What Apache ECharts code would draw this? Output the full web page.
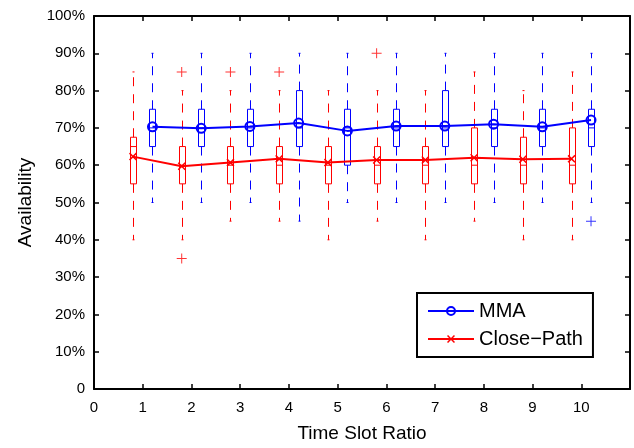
<!DOCTYPE html>
<html>
<head>
<meta charset="utf-8">
<script src="https://cdn.jsdelivr.net/npm/echarts@6/dist/echarts.min.js"></script>
<style>html,body{margin:0;padding:0;background:#fff}#c{width:634px;height:448px}</style>
</head>
<body>
<div id="c"></div>
<script>
// ---- data ----
const ratios = [1, 2, 3, 4, 5, 6, 7, 8, 9, 10];
const mmaMean = [70.3, 69.9, 70.4, 71.3, 69.2, 70.5, 70.5, 71.0, 70.3, 72.1];
const cpMean  = [62.3, 59.7, 60.7, 61.7, 60.7, 61.4, 61.4, 62.0, 61.6, 61.7];
// box stats: whisker low, Q1, median, Q3, whisker high
const mmaLow  = [50, 50, 50, 45, 50, 50, 50, 50, 50, 50];
const mmaQ1   = [65, 65, 65, 65, 60, 65, 65, 65, 65, 65];
const mmaMed  = [70, 70, 70, 70, 70, 70, 70, 70, 70, 70];
const mmaQ3   = [75, 75, 75, 80, 75, 75, 80, 75, 75, 75];
const mmaHigh = [90, 90, 90, 90, 90, 90, 90, 90, 90, 90];
const cpLow   = [40, 40, 45, 45, 40, 45, 40, 45, 40, 40];
const cpQ1    = [55, 55, 55, 55, 55, 55, 55, 55, 55, 55];
const cpMed   = [65, 60, 60, 60, 60, 60, 60, 60, 60, 60];
const cpQ3    = [67.5, 65, 65, 65, 65, 65, 65, 70, 67.5, 70];
const cpHigh  = [85, 80, 80, 80, 80, 80, 80, 85, 80, 85];
// outliers: ratio, value
const mmaOutRatio = [10];
const mmaOutValue = [45];
const cpOutRatio  = [2, 2, 3, 4, 6];
const cpOutValue  = [85, 35, 85, 85, 90];
const yTicks = [0, 10, 20, 30, 40, 50, 60, 70, 80, 90, 100];

// ---- presentation ----
const BLUE = '#0000ff', RED = '#ff0000';
const MMA_OFF = 0.2, CP_OFF = -0.2;
const FONT = "'Liberation Sans', Arial, Helvetica, sans-serif";

function boxData(off, lo, q1, md, q3, hi) {
  return ratios.map((r, i) => [r + off, lo[i], q1[i], md[i], q3[i], hi[i]]);
}
function boxRenderer(color) {
  return function (params, api) {
    const x = api.value(0);
    const p = k => api.coord([x, api.value(k)]);
    const lo = p(1), q1 = p(2), md = p(3), q3 = p(4), hi = p(5);
    const cx = Math.round(lo[0]) + 0.5;
    const hw = 3;
    const solid = { stroke: color, lineWidth: 1, fill: null };
    const dashed = { stroke: color, lineWidth: 1, lineDash: [9, 8], fill: null };
    return {
      type: 'group',
      children: [
        { type: 'line', shape: { x1: cx, y1: q3[1], x2: cx, y2: hi[1] }, style: dashed },
        { type: 'line', shape: { x1: cx, y1: q1[1], x2: cx, y2: lo[1] }, style: dashed },
        { type: 'line', shape: { x1: cx - 1, y1: hi[1], x2: cx + 1, y2: hi[1] }, style: solid },
        { type: 'line', shape: { x1: cx - 1, y1: lo[1], x2: cx + 1, y2: lo[1] }, style: solid },
        { type: 'rect', shape: { x: cx - hw, y: q3[1], width: 2 * hw, height: q1[1] - q3[1] }, style: solid },
        { type: 'line', shape: { x1: cx - hw, y1: md[1], x2: cx + hw, y2: md[1] }, style: solid }
      ]
    };
  };
}
const PLUS = 'path://M4.5,0h1v4.5h4.5v1h-4.5v4.5h-1v-4.5h-4.5v-1h4.5z';
const CROSS = 'path://M0,1.3L1.3,0L5,3.7L8.7,0L10,1.3L6.3,5L10,8.7L8.7,10L5,6.3L1.3,10L0,8.7L3.7,5Z';

const chart = echarts.init(document.getElementById('c'), null, { renderer: 'canvas' });
const axisLine = { show: true, onZero: false, lineStyle: { color: '#000', width: 2 } };
const axisTick = { show: true, inside: true, length: 5, lineStyle: { color: '#000', width: 1.5 } };
chart.setOption({
  animation: false,
  backgroundColor: '#fff',
  textStyle: { fontFamily: FONT },
  grid: { left: 94, right: 4, top: 16, bottom: 59, containLabel: false },
  xAxis: [
    {
      type: 'value', min: 0, max: 11, interval: 1, position: 'bottom',
      axisLine, axisTick, splitLine: { show: false },
      axisLabel: { color: '#000', fontSize: 15, fontFamily: FONT, margin: 11,
        formatter: v => (v > 10 ? '' : String(v)) },
      name: 'Time Slot Ratio', nameLocation: 'middle', nameGap: 35,
      nameTextStyle: { color: '#000', fontSize: 19, fontFamily: FONT }
    },
    {
      type: 'value', min: 0, max: 11, interval: 1, position: 'top',
      axisLine, axisTick, splitLine: { show: false }, axisLabel: { show: false }
    }
  ],
  yAxis: [
    {
      type: 'value', min: 0, max: 100, interval: 10, position: 'left',
      axisLine, axisTick, splitLine: { show: false },
      axisLabel: { color: '#000', fontSize: 15, fontFamily: FONT, margin: 9,
        formatter: v => (yTicks.indexOf(v) >= 0 ? (v === 0 ? '0' : v + '%') : '') },
      name: 'Availability', nameLocation: 'middle', nameGap: 58,
      nameTextStyle: { color: '#000', fontSize: 19, fontFamily: FONT }
    },
    {
      type: 'value', min: 0, max: 100, interval: 10, position: 'right',
      axisLine, axisTick, splitLine: { show: false }, axisLabel: { show: false }
    }
  ],
  legend: {
    orient: 'vertical', left: 417, top: 293,
    padding: [8, 10, 8, 10], itemGap: 8,
    itemWidth: 46, itemHeight: 10,
    lineStyle: { width: 2 },
    backgroundColor: '#fff', borderColor: '#000', borderWidth: 2, borderRadius: 0,
    textStyle: { color: '#000', fontSize: 20, fontFamily: FONT, padding: [0, 0, 0, 0] },
    data: ['MMA', 'Close\u2212Path']
  },
  series: [
    {
      type: 'custom', name: 'mmaBox', renderItem: boxRenderer(BLUE),
      data: boxData(MMA_OFF, mmaLow, mmaQ1, mmaMed, mmaQ3, mmaHigh),
      encode: { x: 0, y: [1, 2, 3, 4, 5] }, z: 2, silent: true
    },
    {
      type: 'custom', name: 'cpBox', renderItem: boxRenderer(RED),
      data: boxData(CP_OFF, cpLow, cpQ1, cpMed, cpQ3, cpHigh),
      encode: { x: 0, y: [1, 2, 3, 4, 5] }, z: 2, silent: true
    },
    {
      type: 'scatter', name: 'mmaOut', symbol: PLUS, symbolSize: 10,
      itemStyle: { color: BLUE }, z: 3, silent: true,
      data: mmaOutRatio.map((r, i) => [r + MMA_OFF, mmaOutValue[i]])
    },
    {
      type: 'scatter', name: 'cpOut', symbol: PLUS, symbolSize: 10,
      itemStyle: { color: RED }, z: 3, silent: true,
      data: cpOutRatio.map((r, i) => [r + CP_OFF, cpOutValue[i]])
    },
    {
      type: 'line', name: 'MMA', z: 5,
      data: ratios.map((r, i) => [r + MMA_OFF, mmaMean[i]]),
      lineStyle: { color: BLUE, width: 2 },
      symbol: 'circle', symbolSize: 9, showSymbol: true,
      itemStyle: { color: 'rgba(255,255,255,0)', borderColor: BLUE, borderWidth: 2 }
    },
    {
      type: 'line', name: 'Close\u2212Path', z: 5,
      data: ratios.map((r, i) => [r + CP_OFF, cpMean[i]]),
      lineStyle: { color: RED, width: 2 },
      symbol: CROSS, symbolSize: 8, showSymbol: true,
      itemStyle: { color: RED }
    }
  ]
});
</script>
</body>
</html>
